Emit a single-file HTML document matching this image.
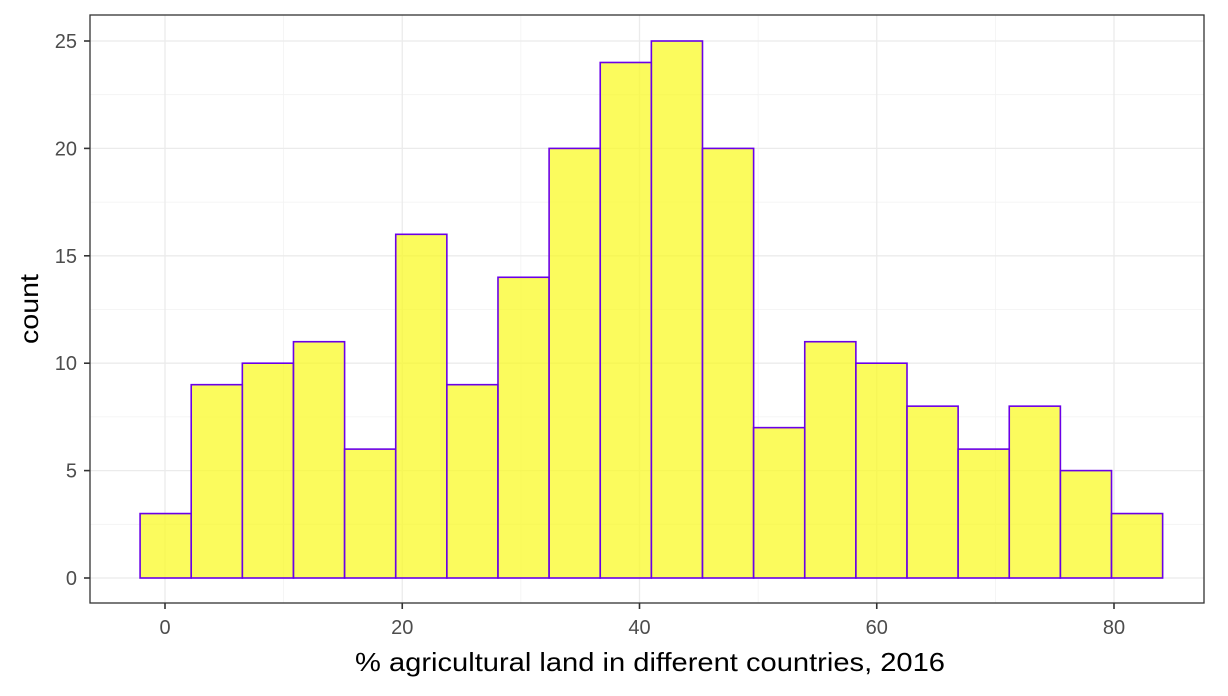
<!DOCTYPE html>
<html><head><meta charset="utf-8"><style>
body{margin:0;background:#fff}
svg{font-family:"Liberation Sans",sans-serif}
</style></head><body>
<svg id="c" width="1228" height="691"></svg>
<script>
const counts=[3,9,10,11,6,16,9,14,20,24,25,20,7,11,10,8,6,8,5,3];
const binStart=-2.1, binWidth=4.31;
const xTicks=[0,20,40,60,80];
const yTicks=[0,5,10,15,20,25];
const L=90,R=1204,T=15,B=603;
const X=v=>165+v*(1114-165)/80;
const Y=v=>578-v*(578-41)/25;
const s=document.getElementById('c');
const NS='http://www.w3.org/2000/svg';
function mk(t,a,p){const e=document.createElementNS(NS,t);for(const k in a)e.setAttribute(k,a[k]);(p||s).appendChild(e);return e;}
const bg=mk('rect',{x:L,y:T,width:R-L,height:B-T,fill:'#fff'});


for(let i=0;i<xTicks.length-1;i++){const v=(xTicks[i]+xTicks[i+1])/2;mk('line',{x1:X(v),x2:X(v),y1:T,y2:B,stroke:'#f2f2f2','stroke-width':0.8});}
for(let i=0;i<yTicks.length-1;i++){const v=(yTicks[i]+yTicks[i+1])/2;mk('line',{x1:L,x2:R,y1:Y(v),y2:Y(v),stroke:'#f2f2f2','stroke-width':0.8});}
for(const v of xTicks){const g=mk('line',{x1:X(v),x2:X(v),y1:T,y2:B,stroke:'#ebebeb','stroke-width':1.3});}
for(const v of yTicks){const g=mk('line',{x1:L,x2:R,y1:Y(v),y2:Y(v),stroke:'#ebebeb','stroke-width':1.3});}
counts.forEach((c,i)=>{const x0=X(binStart+i*binWidth),x1=X(binStart+(i+1)*binWidth);
const r=mk('rect',{x:x0,y:Y(c),width:x1-x0,height:Y(0)-Y(c),fill:'rgba(250,250,30,0.72)',stroke:'#6a00e8','stroke-width':1.6});

});
const f=mk('rect',{x:L,y:T,width:R-L,height:B-T,fill:'none',stroke:'#333','stroke-width':1.3});


for(const v of xTicks){mk('line',{x1:X(v),x2:X(v),y1:B,y2:B+6,stroke:'#333','stroke-width':1.6});
const t=mk('text',{x:X(v),y:B+31,'text-anchor':'middle','font-size':20,fill:'#4d4d4d'});t.textContent=v;
}
for(const v of yTicks){mk('line',{x1:L-6,x2:L,y1:Y(v),y2:Y(v),stroke:'#333','stroke-width':1.6});
const t=mk('text',{x:L-13,y:Y(v)+7,'text-anchor':'end','font-size':20,fill:'#4d4d4d'});t.textContent=v;
}
const xt=mk('text',{x:(L+R)/2+3,y:671,'text-anchor':'middle','font-size':26,fill:'#000',textLength:590,lengthAdjust:'spacingAndGlyphs'});xt.textContent='% agricultural land in different countries, 2016';

const yt=mk('text',{x:0,y:0,'text-anchor':'middle','font-size':26,fill:'#000',textLength:70,lengthAdjust:'spacingAndGlyphs',transform:`translate(38,${(T+B)/2}) rotate(-90)`});yt.textContent='count';

</script>
</body></html>
